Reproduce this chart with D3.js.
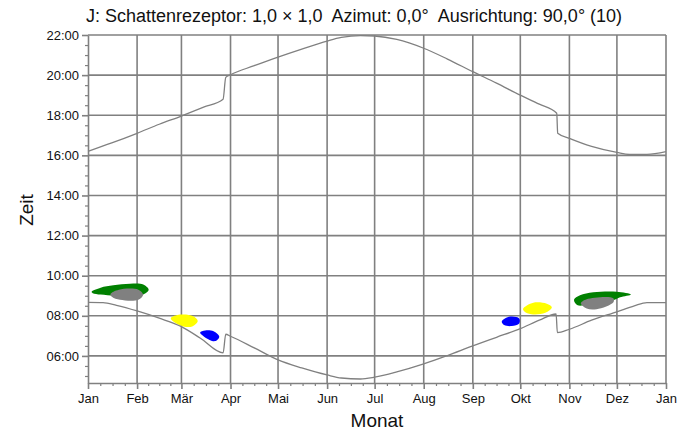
<!DOCTYPE html>
<html>
<head>
<meta charset="utf-8">
<script src="https://cdn.jsdelivr.net/npm/d3@7"></script>
<style>
  body { margin: 0; background: #fff; }
  text { font-family: "Liberation Sans", Arial, sans-serif; fill: #111; }
</style>
</head>
<body>
<div id="img"></div>
<script>
// month labels and their start day in the year
const months = ["Jan", "Feb", "Mär", "Apr", "Mai", "Jun", "Jul", "Aug", "Sep", "Okt", "Nov", "Dez", "Jan"];
const monthDays = [0, 31, 59, 90, 120, 151, 181, 212, 243, 273, 304, 334, 365];
const hourTicks = [6, 8, 10, 12, 14, 16, 18, 20, 22];

// upper curve (sunset), [day, hour]
const sunset = [
  [0, 16.2], [15, 16.62], [31, 17.1], [45, 17.55], [59, 17.96], [73, 18.4], [85.3, 18.8],
  [87, 19.89], [90, 20.02], [105, 20.47], [120, 20.9], [135, 21.3], [151, 21.7],
  [160, 21.88], [172, 21.97], [181, 21.95], [195, 21.78], [212, 21.34], [227, 20.8],
  [243, 20.17], [258, 19.6], [273, 19.0], [285, 18.55], [296, 18.1],
  [296.6, 17.1], [304, 16.85], [318, 16.45], [334, 16.15], [342, 16.05], [353, 16.05], [365, 16.18]
];

// lower curve (sunrise), [day, hour]
const sunrise = [
  [0, 8.67], [9.5, 8.66], [18, 8.52], [31, 8.24], [45, 7.88], [59, 7.46], [71, 6.88], [85.3, 6.15],
  [87, 7.08], [90, 6.98], [105, 6.4], [120, 5.8], [135, 5.4], [151, 5.05], [160, 4.9],
  [172, 4.85], [181, 4.94], [195, 5.2], [212, 5.6], [227, 6.02], [243, 6.5],
  [258, 6.93], [273, 7.36], [285, 7.78], [295.6, 8.09], [296.4, 7.16], [304, 7.33],
  [318, 7.78], [334, 8.2], [345, 8.5], [353, 8.66], [365, 8.66]
];

// shadow areas, [day, hour] outlines
const greenA = [[2.3, 9.2], [8, 9.4], [16, 9.52], [26.5, 9.6], [34.9, 9.56], [38.3, 9.3],
  [34.9, 9.06], [26.5, 8.98], [17, 9.0], [8, 9.06], [3, 9.13]];
const greyA = [[14.2, 9.08], [19.5, 9.3], [31.8, 9.3], [34.8, 9.05], [31.8, 8.8], [20.2, 8.8], [15.3, 8.94]];
const yellowA = [[52.3, 7.88], [58.1, 8.06], [66.5, 7.98], [69.3, 7.74], [65.8, 7.47], [60.2, 7.47], [55.3, 7.64]];
const blueA = [[70.8, 7.17], [74, 7.27], [79.3, 7.23], [82.9, 6.96], [80.4, 6.74], [76.8, 6.8], [72.4, 7.02]];
const blueB = [[261.3, 7.72], [266.5, 7.96], [272.3, 7.87], [272.3, 7.62], [267.6, 7.49], [262.8, 7.54]];
const yellowB = [[274.7, 8.34], [281.2, 8.65], [289.7, 8.6], [292.9, 8.43], [288.8, 8.15], [281.2, 8.07], [276.4, 8.17]];
const greenB = [[306.9, 8.8], [310.7, 9.02], [319.1, 9.17], [333.9, 9.2], [342.9, 9.06], [336, 8.92],
  [331.7, 8.78], [319.1, 8.62], [309.2, 8.53]];
const greyB = [[311.2, 8.62], [314.9, 8.83], [331.7, 8.88], [331.8, 8.68], [321.2, 8.33], [314.9, 8.36]];

const W = 696, H = 433;
const svg = d3.select("#img").append("svg")
  .attr("width", W)
  .attr("height", H);

const x = d3.scaleLinear().domain([0, 365]).range([88, 666]);
const y = d3.scaleLinear().domain([4.65, 22]).range([383, 35]);

const gridCol = "#808080";

// grid
svg.append("g").selectAll("line")
  .data(monthDays.slice(1))
  .enter().append("line")
  .attr("x1", d => x(d)).attr("x2", d => x(d))
  .attr("y1", y(22)).attr("y2", y.range()[0])
  .attr("stroke", gridCol).attr("stroke-width", 1.6);

svg.append("g").selectAll("line")
  .data(hourTicks)
  .enter().append("line")
  .attr("x1", x(0)).attr("x2", x(365))
  .attr("y1", d => y(d)).attr("y2", d => y(d))
  .attr("stroke", gridCol).attr("stroke-width", 1.6);

// shadow areas
const blob = d3.line()
  .x(d => x(d[0]))
  .y(d => y(d[1]))
  .curve(d3.curveCatmullRomClosed.alpha(0.5));

const areas = [
  [greenA, "#008000"], [greyA, "#808080"], [yellowA, "#ffff00"], [blueA, "#0000ff"],
  [blueB, "#0000ff"], [yellowB, "#ffff00"], [greenB, "#008000"], [greyB, "#808080"]
];
svg.append("g").selectAll("path")
  .data(areas)
  .enter().append("path")
  .attr("d", d => blob(d[0]))
  .attr("fill", d => d[1]);

// curves
const line = d3.line()
  .x(d => x(d[0]))
  .y(d => y(d[1]))
  .curve(d3.curveMonotoneX);

[sunset, sunrise].forEach(s => {
  svg.append("path")
    .attr("d", line(s))
    .attr("fill", "none")
    .attr("stroke", "#808080")
    .attr("stroke-width", 1.3);
});

// minor ticks
const minorX = [];
for (let i = 0; i < 12; i++) {
  const len = monthDays[i + 1] - monthDays[i];
  for (let k = 1; k < 4; k++) minorX.push(monthDays[i] + len * k / 4);
}
const minorY = d3.range(5, 22, 0.5).filter(h => h % 2 !== 0);

svg.append("g")
  .attr("transform", "translate(0," + y.range()[0] + ")")
  .call(d3.axisBottom(x).tickValues(minorX).tickSize(3).tickSizeOuter(0).tickFormat(""))
  .call(g => g.select(".domain").remove())
  .selectAll("line").attr("stroke", gridCol).attr("stroke-width", 1.2);

svg.append("g")
  .attr("transform", "translate(" + x(0) + ",0)")
  .call(d3.axisLeft(y).tickValues(minorY).tickSize(3).tickSizeOuter(0).tickFormat(""))
  .call(g => g.select(".domain").remove())
  .selectAll("line").attr("stroke", gridCol).attr("stroke-width", 1.2);

// main axes
const xAxis = svg.append("g")
  .attr("transform", "translate(0," + y.range()[0] + ")")
  .call(d3.axisBottom(x).tickValues(monthDays).tickSize(6).tickSizeOuter(0)
    .tickFormat((d, i) => months[i]));
xAxis.selectAll("line, path").attr("stroke", gridCol).attr("stroke-width", 1.6);
xAxis.selectAll("text").attr("font-size", 13).attr("dy", "0.85em").style("fill", "#111");

const yAxis = svg.append("g")
  .attr("transform", "translate(" + x(0) + ",0)")
  .call(d3.axisLeft(y).tickValues(hourTicks).tickSize(6).tickSizeOuter(0)
    .tickFormat(d => d3.format("02d")(d) + ":00"));
yAxis.selectAll("line, path").attr("stroke", gridCol).attr("stroke-width", 1.6);
yAxis.selectAll("text").attr("font-size", 13).attr("x", -9).style("fill", "#111");

// titles
svg.append("text")
  .attr("x", 354).attr("y", 22)
  .attr("text-anchor", "middle")
  .attr("font-size", 18)
  .style("white-space", "pre")
  .text("J: Schattenrezeptor: 1,0 × 1,0  Azimut: 0,0°  Ausrichtung: 90,0° (10)");

svg.append("text")
  .attr("x", 377).attr("y", 427)
  .attr("text-anchor", "middle")
  .attr("font-size", 19)
  .text("Monat");

svg.append("text")
  .attr("transform", "translate(33,210) rotate(-90)")
  .attr("text-anchor", "middle")
  .attr("font-size", 19)
  .text("Zeit");
</script>
</body>
</html>
